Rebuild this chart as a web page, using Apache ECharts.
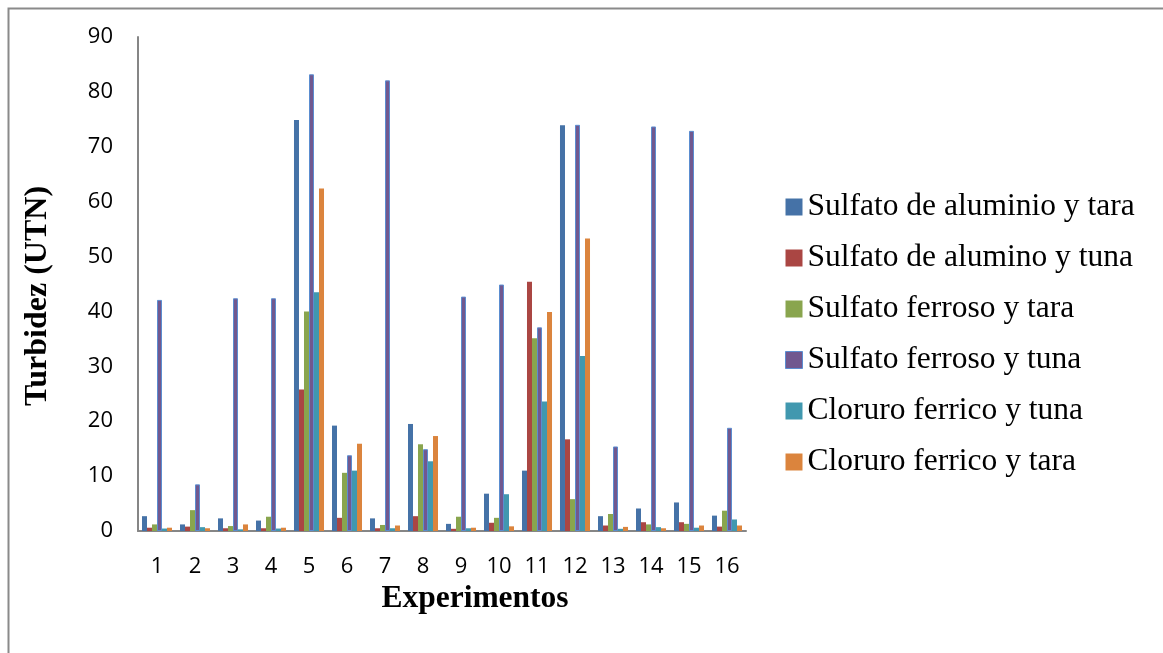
<!DOCTYPE html>
<html>
<head>
<meta charset="utf-8">
<script src="https://cdn.jsdelivr.net/npm/echarts@6/dist/echarts.min.js"></script>
<style>
html,body{margin:0;padding:0;background:#fff;}
#chart{width:1163px;height:653px;}
</style>
</head>
<body>
<div id="chart"></div>
<script>
const categories = ['1','2','3','4','5','6','7','8','9','10','11','12','13','14','15','16'];
const seriesNames = ['Sulfato de aluminio y tara','Sulfato de alumino y tuna','Sulfato ferroso y tara','Sulfato ferroso y tuna','Cloruro ferrico y tuna','Cloruro ferrico y tara'];
const sulfAlumTara  = [2.7, 1.2, 2.3, 1.9, 74.9, 19.2, 2.3, 19.5, 1.3, 6.8, 11.0, 73.9, 2.7, 4.1, 5.2, 2.8];
const sulfAlumTuna  = [0.6, 0.8, 0.5, 0.5, 25.8, 2.4, 0.5, 2.7, 0.4, 1.5, 45.4, 16.7, 1.0, 1.6, 1.6, 0.8];
const sulfFerrTara  = [1.2, 3.8, 0.9, 2.6, 40.0, 10.6, 1.1, 15.8, 2.6, 2.4, 35.1, 5.8, 3.1, 1.2, 1.3, 3.7];
const sulfFerrTuna  = [42.1, 8.5, 42.4, 42.4, 83.2, 13.8, 82.1, 14.9, 42.7, 44.9, 37.1, 74.0, 15.4, 73.7, 72.9, 18.8];
const clorFerrTuna  = [0.45, 0.7, 0.3, 0.45, 43.5, 11.0, 0.5, 12.7, 0.5, 6.7, 23.6, 31.9, 0.4, 0.7, 0.6, 2.1];
const clorFerrTara  = [0.6, 0.5, 1.2, 0.6, 62.4, 15.9, 1.0, 17.3, 0.6, 0.85, 39.9, 53.3, 0.75, 0.5, 1.0, 1.0];
const yTicks = [0,10,20,30,40,50,60,70,80,90];

const colors = ['#4572A7','#AA4643','#89A54E','#71588F','#4198AF','#DB843D'];
const dataArr = [sulfAlumTara, sulfAlumTuna, sulfFerrTara, sulfFerrTuna, clorFerrTuna, clorFerrTara];

const chart = echarts.init(document.getElementById('chart'));
const series = dataArr.map((d, i) => ({
  name: seriesNames[i],
  type: 'bar',
  data: d,
  barGap: '0%',
  barCategoryGap: '21%',
  itemStyle: i === 3 ? {color: colors[i], borderColor: '#5B8DD0', borderWidth: 1} : {color: colors[i]},
  emphasis: {disabled: true}
}));

chart.setOption({
  animation: false,
  color: colors,
  grid: {left: 138, top: 37, width: 608, height: 494, containLabel: false},
  graphic: [{
    type: 'rect', shape: {x: 8.5, y: 8.5, width: 1300, height: 800},
    style: {fill: 'none', stroke: '#8a8a8a', lineWidth: 2}, silent: true
  }, {
    type: 'text', x: 38, y: 296, rotation: Math.PI / 2,
    style: {text: 'Turbidez (UTN)', fontFamily: 'Liberation Serif', fontWeight: 'bold', fontSize: 32,
      fill: '#000', align: 'center', verticalAlign: 'middle'}, silent: true
  }],
  legend: {
    orient: 'vertical', left: 780, top: 186, itemGap: 19,
    itemWidth: 17, itemHeight: 17, icon: 'rect',
    textStyle: {fontFamily: 'Liberation Serif', fontSize: 31.5, color: '#000'},
    data: seriesNames.map((n, i) => ({name: n, itemStyle: {color: colors[i], borderWidth: i===3?1:0, borderColor: '#5B8DD0'}}))
  },
  xAxis: {
    type: 'category', data: categories,
    name: 'Experimentos', nameLocation: 'middle', nameGap: 44,
    nameTextStyle: {fontFamily: 'Liberation Serif', fontWeight: 'bold', fontSize: 31.5, color: '#000', padding: [0, 0, 0, 66]},
    axisLine: {lineStyle: {color: '#868686', width: 2}},
    axisTick: {show: false},
    axisLabel: {fontFamily: 'Open Sans', fontSize: 22, color: '#000', margin: 25, interval: 0}
  },
  yAxis: {
    type: 'value', min: 0, max: 90, interval: 10,
    axisLine: {show: true, lineStyle: {color: '#868686', width: 2}},
    axisTick: {show: false},
    splitLine: {show: false},
    axisLabel: {fontFamily: 'Open Sans', fontSize: 22, color: '#000', margin: 25,
      formatter: v => yTicks.includes(v) ? String(v) : ''}
  },
  series: series
});
</script>
</body>
</html>
